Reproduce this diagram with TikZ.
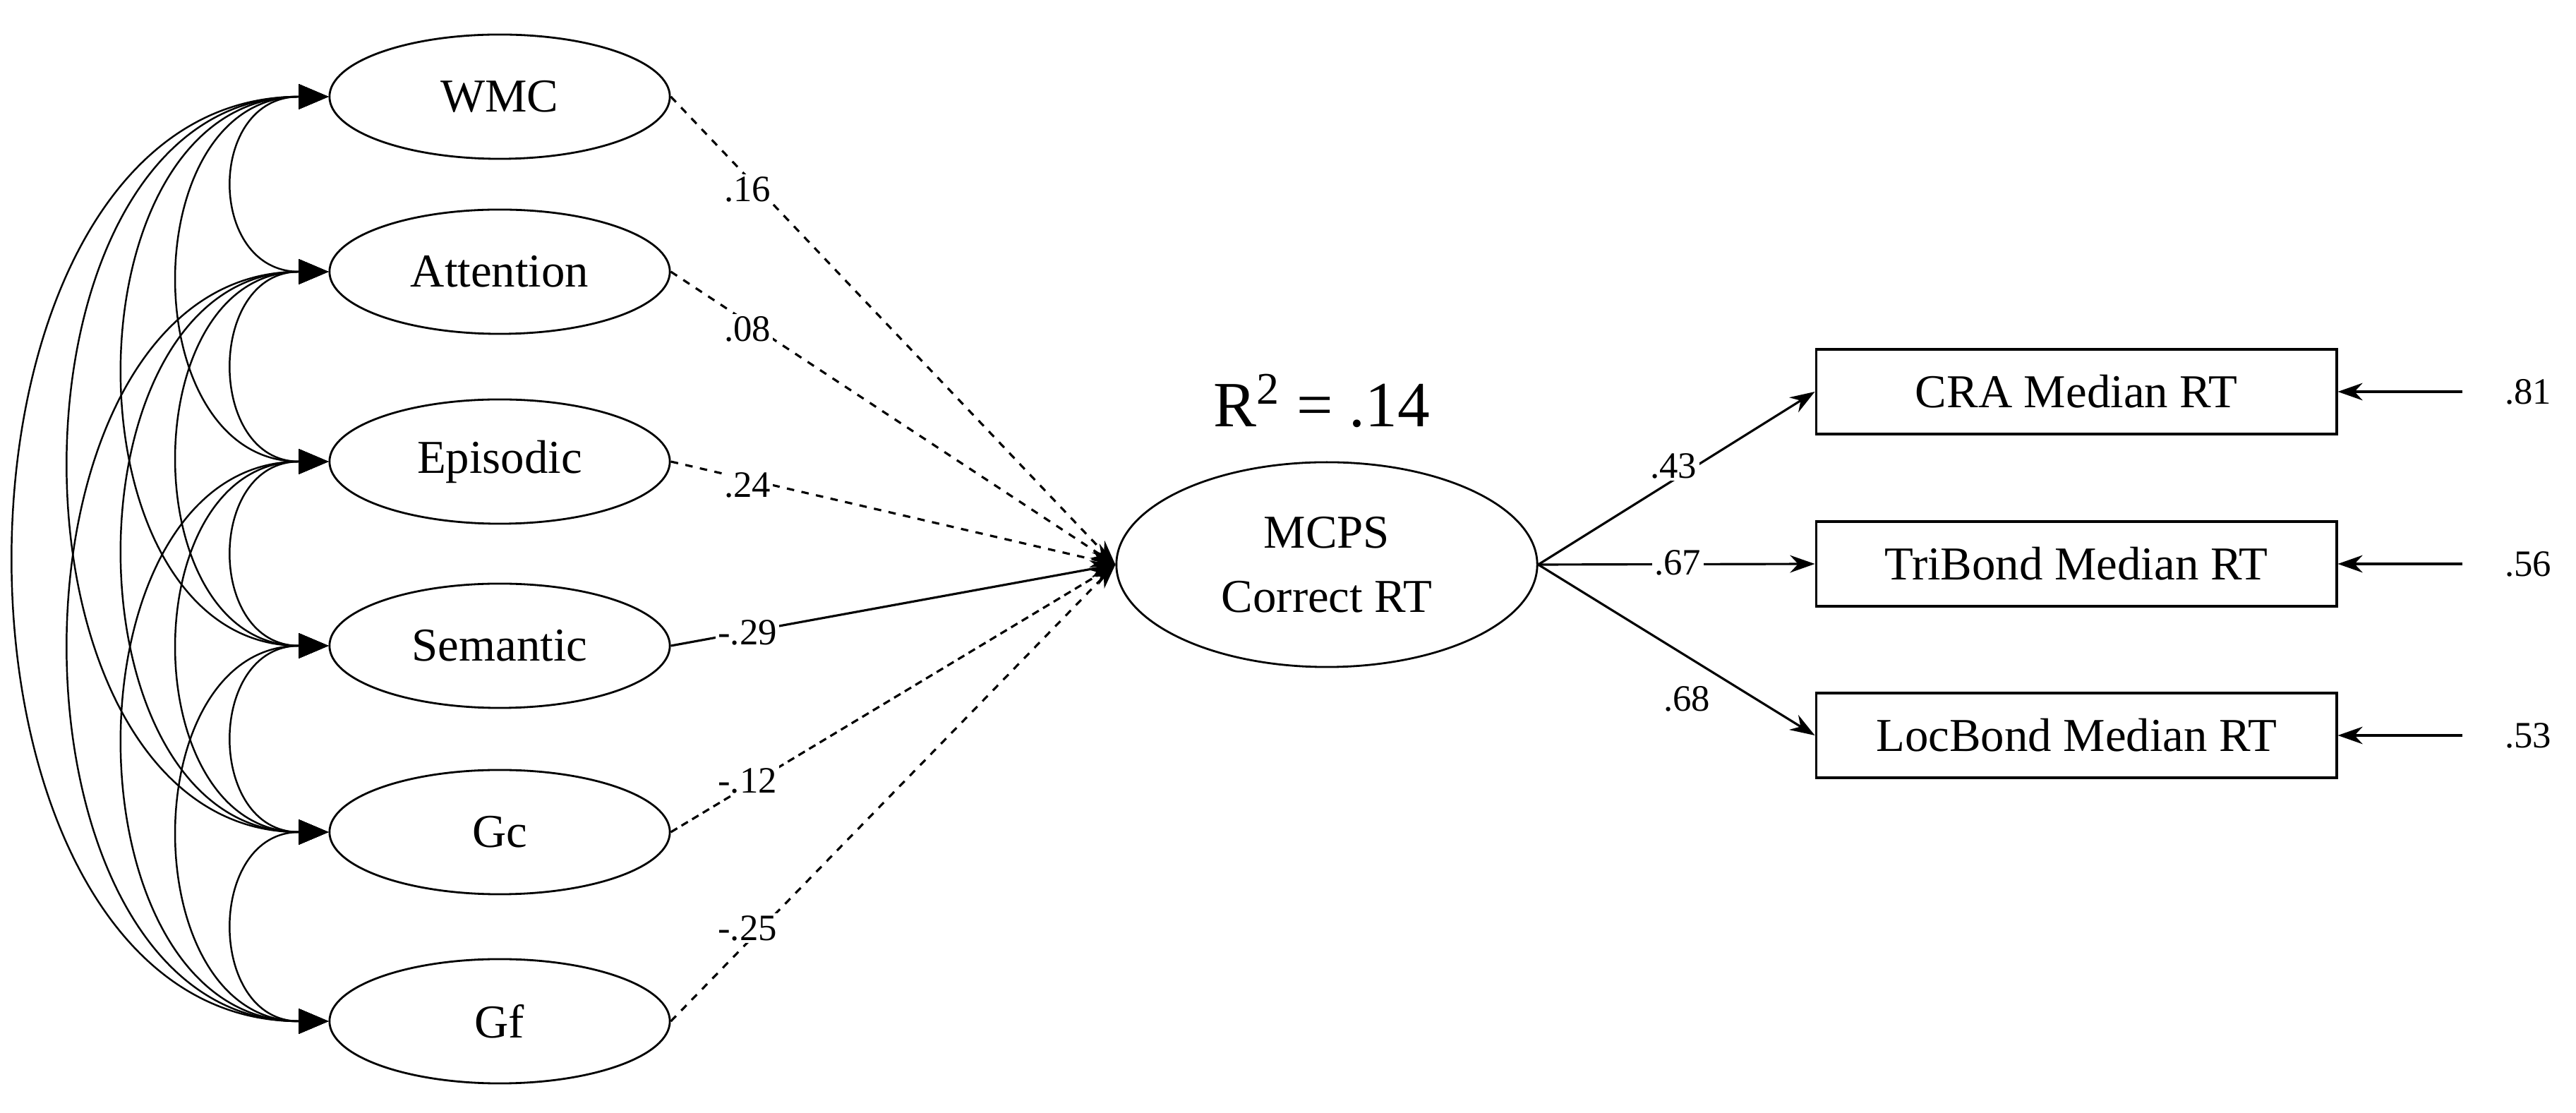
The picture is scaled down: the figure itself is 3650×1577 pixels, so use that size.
\documentclass[tikz,border=0pt]{standalone}
\usepackage{fontspec}
\setmainfont{Liberation Serif}
\usetikzlibrary{arrows.meta,shapes.geometric}
\begin{document}
\begin{tikzpicture}[x=0.01cm,y=-0.01cm,
 lat/.style={draw,ellipse,line width=0.8pt,minimum width=4.82cm,minimum height=1.76cm,font=\fontsize{19}{22}\selectfont},
 obs/.style={draw,rectangle,line width=1pt,minimum width=7.37cm,minimum height=1.2cm,font=\fontsize{19}{22}\selectfont},
 cov/.style={line width=0.7pt,{Triangle[length=12pt,width=10pt]}-{Triangle[length=12pt,width=10pt]}},
 path/.style={line width=0.9pt,-{Stealth[length=10pt,width=7pt]}},
 lab/.style={fill=white,inner sep=1pt,font=\fontsize{15}{18}\selectfont}]
\useasboundingbox (0,0) rectangle (3650,1577);
\node[lat] (w) at (708,137) {WMC};
\node[lat] (a) at (708,385) {Attention};
\node[lat] (e) at (708,654) {Episodic};
\node[lat] (s) at (708,915) {Semantic};
\node[lat] (c) at (708,1179) {Gc};
\node[lat] (f) at (708,1447) {Gf};
\node[draw,ellipse,line width=0.8pt,minimum width=5.96cm,minimum height=2.9cm,align=center,font=\fontsize{19}{26}\selectfont] (m) at (1880,800) {MCPS\\Correct RT};
\node[font=\fontsize{26}{30}\selectfont] (r) at (1873,568) {R\textsuperscript{2} = .14};
\node[obs] (cra) at (2942,555) {CRA Median RT};
\node[obs] (tri) at (2942,799) {TriBond Median RT};
\node[obs] (loc) at (2942,1042) {LocBond Median RT};
% covariances
\foreach \p/\q/\k in {w/a/173,a/e/173,e/s/173,s/c/173,c/f/173,
 w/e/276,a/s/276,e/c/276,s/f/276,
 w/s/379,a/c/379,e/f/379,
 w/c/481,a/f/481,
 w/f/585}{
 \draw[cov] (\p.west) .. controls +(-\k,0) and +(-\k,0) .. (\q.west);}
% paths to MCPS
\draw[path,dashed] (w.east) -- (m.west);
\draw[path,dashed] (a.east) -- (m.west);
\draw[path,dashed] (e.east) -- (m.west);
\draw[path] (s.east) -- (m.west);
\draw[path,densely dashed] (c.east) -- (m.west);
\draw[path,dashed] (f.east) -- (m.west);
\node[lab] (l1) at (1059,268) {.16};
\node[lab] (l2) at (1059,466) {.08};
\node[lab] (l3) at (1059,687) {.24};
\node[lab] (l4) at (1059,896) {-.29};
\node[lab] (l5) at (1059,1106) {-.12};
\node[lab] (l6) at (1059,1315) {-.25};
% paths to indicators
\draw[path] (m.east) -- (cra.west);
\draw[path] (m.east) -- (tri.west);
\draw[path] (m.east) -- (loc.west);
\node[lab] (k1) at (2371,660) {.43};
\node[lab] (k2) at (2377,797) {.67};
\node[lab] (k3) at (2390,990) {.68};
% errors
\coordinate (e1) at (3489,555);
\coordinate (e2) at (3489,799);
\coordinate (e3) at (3489,1042);
\draw[path] (e1) -- (cra.east);
\draw[path] (e2) -- (tri.east);
\draw[path] (e3) -- (loc.east);
\node[lab,anchor=west] (r1) at (3545,555) {.81};
\node[lab,anchor=west] (r2) at (3545,799) {.56};
\node[lab,anchor=west] (r3) at (3545,1042) {.53};
\end{tikzpicture}
\end{document}
